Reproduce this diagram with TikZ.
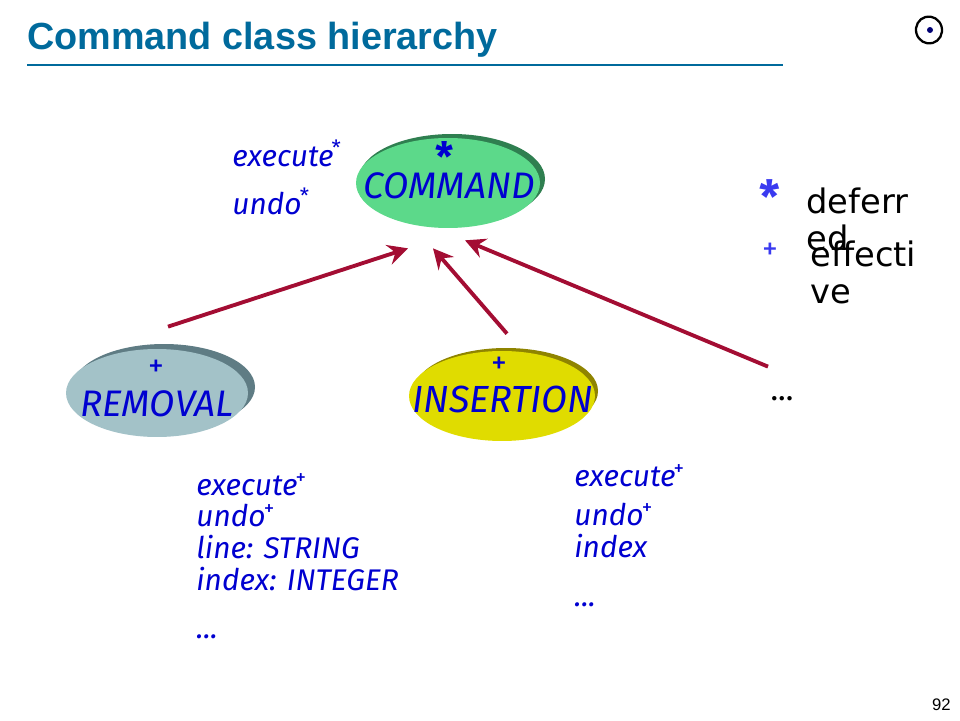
\documentclass[tikz,border=0pt]{standalone}
\usepackage{fontspec}
\setmainfont{Liberation Sans}
\newfontfamily\handfont{Fira Sans}
\newfontfamily\plainfont{DejaVu Sans}
\usetikzlibrary{arrows.meta,positioning,shapes.geometric}
\definecolor{titleblue}{HTML}{006A9C}
\definecolor{classblue}{HTML}{0000D0}
\definecolor{markblue}{HTML}{3A3AF0}
\definecolor{arrowred}{HTML}{A30D33}
\definecolor{cmdgreen}{HTML}{5CD98A}
\definecolor{cmddark}{HTML}{2F7F50}
\definecolor{remgray}{HTML}{A3C2C8}
\definecolor{remdark}{HTML}{5F7C84}
\definecolor{insyellow}{HTML}{E0DC00}
\definecolor{insdark}{HTML}{8F8400}
\newcommand{\upmark}[1]{\raisebox{0.65ex}{\fontsize{12}{12}\selectfont\upshape\kern-1pt #1}}
\newcommand{\moredots}{...}
\tikzset{
  classname/.style={font=\handfont\itshape\fontsize{21}{21}\selectfont,text=classblue,inner sep=0pt},
  feature/.style={anchor=base west,font=\handfont\itshape\fontsize{17}{17}\selectfont,text=classblue,inner sep=0pt},
  classmark/.style={font=\handfont\fontsize{18}{18}\selectfont,text=classblue,inner sep=0pt},
  legendword/.style={anchor=base west,font=\plainfont\fontsize{19.2}{21}\selectfont,align=left,inner sep=0pt},
  inherit/.style={line width=2.2pt,arrowred,-{Stealth[length=11.5pt,width=11.5pt,inset=4pt]}}
}
\begin{document}
\begin{tikzpicture}[x=0.02cm,y=-0.02cm]
  \useasboundingbox (0,0) rectangle (960,720);
  \node[anchor=base west,inner sep=0pt,font=\bfseries\fontsize{21.5}{21.5}\selectfont,text=titleblue] (title) at (27,50) {Command class hierarchy};
  \coordinate (rulestart) at (27,65); \coordinate (ruleend) at (783,65);
  \draw[titleblue,line width=0.75pt] (rulestart)--(ruleend);
  \draw[line width=1.3pt,rotate around={15:(929,30)}] (929,30) ellipse (13 and 13.5);
  \fill[blue!45!black] (930,30) circle (3);
  % classes
  \fill[cmddark] (452,179) ellipse (93 and 45);
  \node[ellipse,fill=cmdgreen,minimum width=3.68cm,minimum height=1.8cm,inner sep=0pt] (command) at (448,183) {};
  \fill[remdark] (164,387) ellipse (91 and 43);
  \node[ellipse,fill=remgray,minimum width=3.64cm,minimum height=1.76cm,inner sep=0pt] (removal) at (157,393) {};
  \fill[insdark] (506,391) ellipse (92 and 43);
  \node[ellipse,fill=insyellow,minimum width=3.72cm,minimum height=1.8cm,inner sep=0pt] (insertion) at (502,396) {};
  \node[classname] (commandname) at (449,186) {COMMAND};
  \node[classname] (removalname) at (157,404) {REMOVAL};
  \node[classname,font=\handfont\itshape\fontsize{21.5}{21.5}\selectfont] (insertionname) at (503,399) {INSERTION};
  \node[classmark,font=\handfont\bfseries\fontsize{23}{23}\selectfont] (commandstar) at (445,157) {*};
  \node[classmark] (removalplus) at (156,368) {+};
  \node[classmark] (insertionplus) at (499,365) {+};
  % features
  \node[feature] (cmdexec) at (232,166) {execute\upmark{*}};
  \node[feature] (cmdundo) at (232,214) {undo\upmark{*}};
  \foreach \i/\y/\txt in {1/495/execute\upmark{+},2/526/undo\upmark{+},3/558/line: STRING,4/590/index: INTEGER,5/638/\moredots}
    \node[feature] (remfeat\i) at (196,\y) {\txt};
  \foreach \i/\y/\txt in {1/486/execute\upmark{+},2/525/undo\upmark{+},3/557/index,4/606/\moredots}
    \node[feature] (insfeat\i) at (574,\y) {\txt};
  \node[anchor=base,inner sep=0pt,font=\handfont\fontsize{18}{18}\selectfont] (moreclasses) at (782,400) {\moredots};
  % legend
  \node[classmark,text=markblue,font=\handfont\bfseries\fontsize{26}{26}\selectfont] (legendstar) at (770,197) {*};
  \node[classmark,text=markblue] (legendplus) at (770,251) {+};
  \node[legendword] (deferred) at (806,250) {deferr\\ed};
  \node[legendword] (effective) at (810,303) {effecti\\ve};
  \node[anchor=base east,inner sep=0pt,font=\fontsize{9.5}{9.5}\selectfont] (pagenum) at (951,710) {92};
  % inheritance
  \draw[inherit] ([shift={(11,-22)}]removal.north)--([shift={(-40,20)}]command.south);
  \draw[inherit] ([shift={(5,-17)}]insertion.north)--([shift={(-15,20)}]command.south);
  \draw[inherit] ([shift={(-14,-29)}]moreclasses.north)--([shift={(17,12)}]command.south);
\end{tikzpicture}
\end{document}
